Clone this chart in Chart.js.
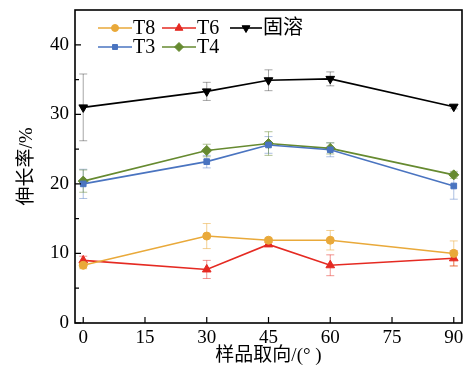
<!DOCTYPE html>
<html>
<head>
<meta charset="utf-8">
<script src="https://cdn.jsdelivr.net/npm/chart.js@4/dist/chart.umd.min.js"></script>
<style>
  html, body { margin: 0; padding: 0; background: #fff; }
  canvas { display: block; }
</style>
</head>
<body>
<canvas id="elongChart" width="471" height="372"></canvas>
<script>
// sample orientation (deg)
const angles = [0, 30, 45, 60, 90];
const xTicks = [0, 15, 30, 45, 60, 75, 90];
const yTicks = [0, 10, 20, 30, 40];
const yMinor = [5, 15, 25, 35];

// elongation (%) and error half-widths
const t8 = [8.3, 12.5, 11.9, 11.9, 10.0];
const t8Err = [0.5, 1.8, 0.3, 1.4, 1.8];
const t6 = [9.0, 7.7, 11.3, 8.3, 9.3];
const t6Err = [0.6, 1.3, 0.3, 1.5, 1.1];
const solution = [31.0, 33.3, 34.9, 35.1, 31.1];
const solutionErr = [4.8, 1.3, 1.5, 1.0, 0.3];
const t3 = [20.0, 23.2, 25.6, 24.9, 19.7];
const t3Err = [2.1, 0.9, 1.2, 1.0, 1.9];
const t4 = [20.4, 24.8, 25.8, 25.1, 21.3];
const t4Err = [1.6, 0.9, 1.7, 0.8, 0.5];

const serif = "'Liberation Serif', 'Noto Sans CJK SC', serif";

function series(label, values, errs, color, errColor, style, rotation, radius) {
  return {
    label,
    data: angles.map((a, i) => ({ x: a, y: values[i] })),
    errs,
    errColor,
    borderColor: color,
    backgroundColor: color,
    borderWidth: 1.6,
    pointStyle: style,
    pointRotation: rotation,
    pointRadius: radius,
    pointBorderWidth: 1,
    tension: 0
  };
}

const datasets = [
  series('T8', t8, t8Err, '#E9A93A', 'rgba(233,169,58,0.55)', 'circle', 0, 4),
  series('T6', t6, t6Err, '#E52A22', 'rgba(229,42,34,0.5)', 'triangle', 0, 5),
  series('固溶', solution, solutionErr, '#000000', 'rgba(0,0,0,0.35)', 'triangle', 180, 5),
  series('T3', t3, t3Err, '#4A74C0', 'rgba(74,116,192,0.45)', 'rect', 0, 4),
  series('T4', t4, t4Err, '#668A30', 'rgba(102,138,48,0.5)', 'rectRot', 0, 5)
];

// error bars drawn behind the lines
const errorBars = {
  id: 'errorBars',
  beforeDatasetsDraw(chart) {
    const { ctx, scales: { x, y } } = chart;
    ctx.save();
    ctx.lineWidth = 1;
    chart.data.datasets.forEach(ds => {
      ctx.strokeStyle = ds.errColor;
      ds.data.forEach((p, i) => {
        const e = ds.errs[i];
        const px = x.getPixelForValue(p.x);
        const top = y.getPixelForValue(p.y + e);
        const bot = y.getPixelForValue(p.y - e);
        ctx.beginPath();
        ctx.moveTo(px, top); ctx.lineTo(px, bot);
        ctx.moveTo(px - 4, top); ctx.lineTo(px + 4, top);
        ctx.moveTo(px - 4, bot); ctx.lineTo(px + 4, bot);
        ctx.stroke();
      });
    });
    ctx.restore();
  }
};

// frame, inward ticks and the legend inside the plot
const frameAndLegend = {
  id: 'frameAndLegend',
  afterDraw(chart) {
    const { ctx, chartArea: a, scales: { x, y } } = chart;
    ctx.save();
    ctx.strokeStyle = '#000';
    ctx.lineWidth = 1.6;
    ctx.strokeRect(a.left, a.top, a.right - a.left, a.bottom - a.top);

    ctx.lineWidth = 1.2;
    ctx.beginPath();
    yTicks.forEach(v => {
      const py = y.getPixelForValue(v);
      ctx.moveTo(a.left, py); ctx.lineTo(a.left + 6, py);
    });
    yMinor.forEach(v => {
      const py = y.getPixelForValue(v);
      ctx.moveTo(a.left, py); ctx.lineTo(a.left + 4, py);
    });
    xTicks.forEach(v => {
      const px = x.getPixelForValue(v);
      ctx.moveTo(px, a.bottom); ctx.lineTo(px, a.bottom - 6);
    });
    ctx.stroke();

    // legend: 3 per row
    const cols = [98, 162, 230];
    const rows = [28, 47];
    ctx.font = '20px ' + serif;
    ctx.textBaseline = 'middle';
    chart.data.datasets.forEach((ds, i) => {
      const lx = cols[i % 3];
      const ly = rows[Math.floor(i / 3)];
      const len = i % 3 === 2 ? 32 : 34;
      ctx.strokeStyle = ds.borderColor;
      ctx.fillStyle = ds.backgroundColor;
      ctx.lineWidth = 1.6;
      ctx.beginPath();
      ctx.moveTo(lx, ly); ctx.lineTo(lx + len, ly);
      ctx.stroke();
      ctx.lineWidth = 1;
      Chart.helpers.drawPoint(ctx, {
        pointStyle: ds.pointStyle,
        rotation: ds.pointRotation,
        radius: ds.pointRadius - 0.5,
        borderWidth: 1
      }, lx + len / 2, ly);
      ctx.fillStyle = '#000';
      ctx.fillText(ds.label, lx + len + 1, ly + 1);
    });
    ctx.restore();
  }
};

new Chart(document.getElementById('elongChart'), {
  type: 'line',
  data: { datasets },
  plugins: [errorBars, frameAndLegend],
  options: {
    responsive: false,
    animation: false,
    layout: { padding: { top: 10, right: 9, left: 0, bottom: 0 } },
    plugins: { legend: { display: false }, tooltip: { enabled: false } },
    scales: {
      x: {
        type: 'linear',
        min: -2,
        max: 92,
        afterBuildTicks: s => { s.ticks = xTicks.map(v => ({ value: v })); },
        afterFit: s => { s.height = 49; s.paddingLeft = 0; s.paddingRight = 0; },
        grid: { display: false, drawTicks: false },
        border: { display: false },
        ticks: { color: '#000', padding: 4, font: { family: serif, size: 19 }, maxRotation: 0 },
        title: {
          display: true,
          text: '样品取向/(° )',
          color: '#000',
          font: { family: serif, size: 19 },
          padding: { top: 0, bottom: 5 }
        }
      },
      y: {
        min: 0,
        max: 45,
        afterBuildTicks: s => { s.ticks = yTicks.map(v => ({ value: v })); },
        afterFit: s => { s.width = 75; s.paddingTop = 0; s.paddingBottom = 0; },
        grid: { display: false, drawTicks: false },
        border: { display: false },
        ticks: { color: '#000', padding: 6, font: { family: serif, size: 19 } },
        title: {
          display: true,
          text: '伸长率/%',
          color: '#000',
          font: { family: serif, size: 19 },
          padding: { top: 16, bottom: 0 }
        }
      }
    }
  }
});
</script>
</body>
</html>
